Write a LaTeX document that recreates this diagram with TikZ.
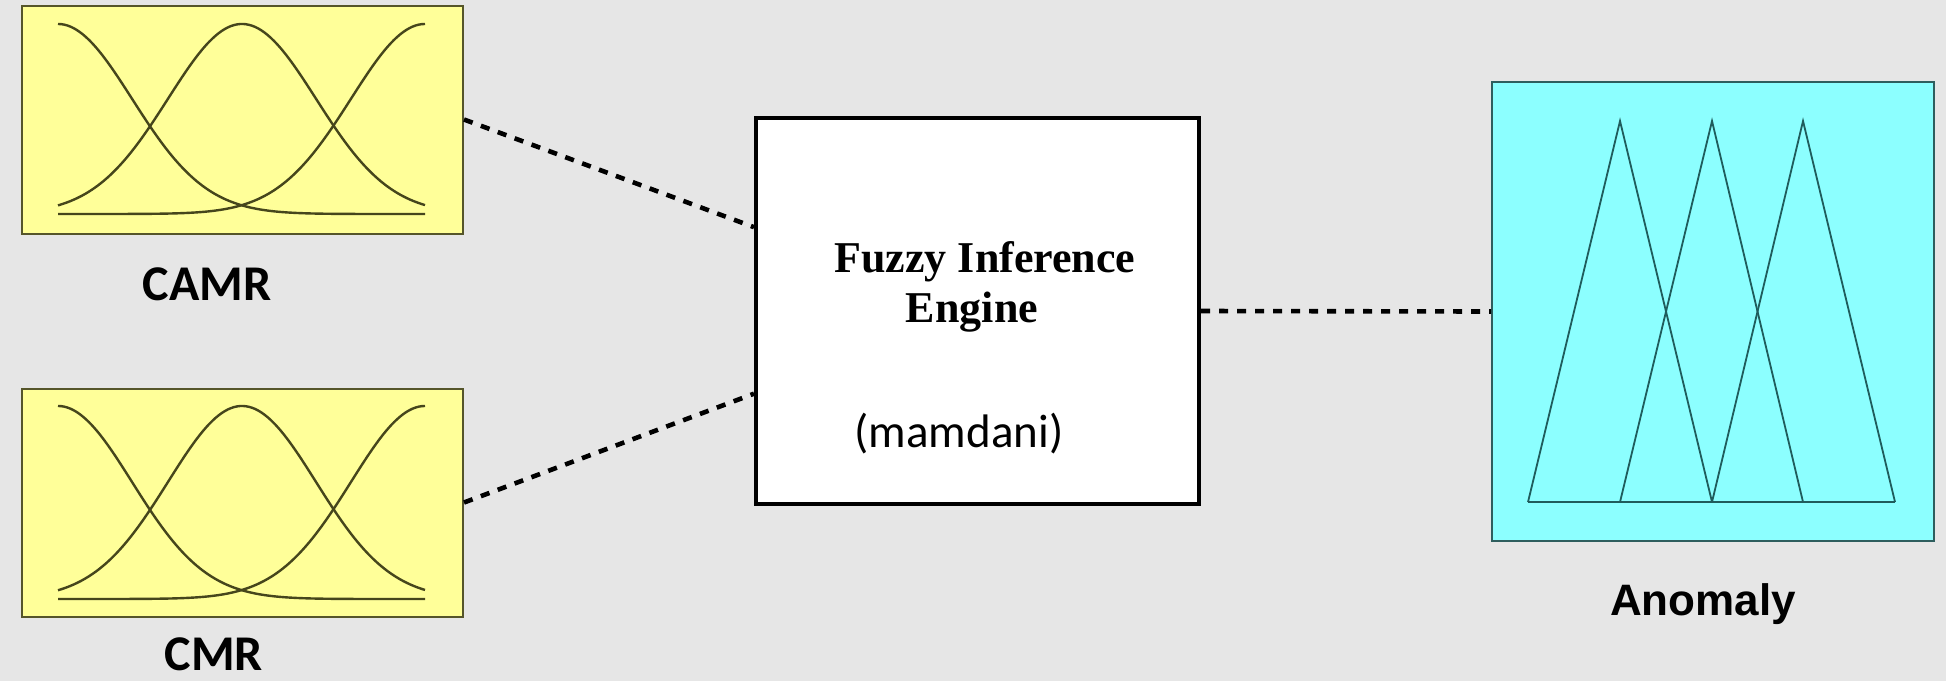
\documentclass[tikz,border=0pt]{standalone}
\usepackage{fontspec}
\newfontfamily\calfont{Carlito}
\newfontfamily\arfont{Liberation Sans}
\newfontfamily\tmfont{Liberation Serif}
\usetikzlibrary{calc}
\definecolor{bg}{HTML}{E6E6E6}
\definecolor{yfill}{HTML}{FFFF99}
\definecolor{yborder}{HTML}{55552A}
\definecolor{gline}{HTML}{46461C}
\definecolor{cfill}{HTML}{8CFFFF}
\definecolor{cborder}{HTML}{2E5E5E}
\definecolor{tline}{HTML}{1F5C5C}
\tikzset{
  inbox/.style={draw=yborder, fill=yfill, line width=1pt, minimum width=220.5pt, minimum height=114pt, inner sep=0pt},
  engbox/.style={draw=black, fill=white, line width=2pt, minimum width=221.5pt, minimum height=193pt, inner sep=0pt},
  outbox/.style={draw=cborder, fill=cfill, line width=1pt, minimum width=221pt, minimum height=229.5pt, inner sep=0pt},
  gcurve/.style={draw=gline, line width=1.2pt},
  tri/.style={draw=tline, line width=0.9pt, line join=miter},
  conn/.style={draw=black, line width=2.3pt, dash pattern=on 4.6pt off 4.4pt},
  lab/.style={inner sep=0pt, font=\calfont\bfseries\fontsize{25}{30}\selectfont},
  anlab/.style={inner sep=0pt, font=\arfont\bfseries\fontsize{22}{26}\selectfont},
  fz/.style={inner sep=0pt, font=\tmfont\bfseries\fontsize{22}{25}\selectfont},
  mam/.style={inner sep=0pt, font=\calfont\fontsize{23.5}{28}\selectfont}
}
\begin{document}
\begin{tikzpicture}[x=0.5pt,y=-0.5pt]
\fill[bg] (0,0) rectangle (1946,681);
\useasboundingbox (0,0) rectangle (1946,681);

% boxes
\node[inbox] (camr) at (242.5,119.5) {};
\node[inbox] (cmr) at (242.5,502.5) {};
\node[engbox] (eng) at (977.5,311) {};
\node[outbox] (anom) at (1713,311.5) {};

% gaussian membership functions
\foreach \t/\b in {24/214, 406/599} {
  \draw[gcurve] plot[domain=58:425,samples=120,smooth] (\x,{\b-(\b-\t)*exp(-0.5*((\x-58)/74)^2)});
  \draw[gcurve] plot[domain=58:425,samples=120,smooth] (\x,{\b-(\b-\t)*exp(-0.5*((\x-242)/74)^2)});
  \draw[gcurve] plot[domain=58:425,samples=120,smooth] (\x,{\b-(\b-\t)*exp(-0.5*((\x-425)/74)^2)});
}

% triangular membership functions
\draw[tri] (1528,502) -- (1620,121) -- (1712,502);
\draw[tri] (1620,502) -- (1712,121) -- (1803,502);
\draw[tri] (1712,502) -- (1803,121) -- (1895,502);
\draw[tri] (1528,502) -- (1895,502);

% connectors
\draw[conn] (camr.east) -- ($(eng.north west)!0.285!(eng.south west)$);
\draw[conn] (cmr.east) -- ($(eng.north west)!0.712!(eng.south west)$);
\draw[conn] (eng.east) -- (anom.west);

% labels
\node[lab, anchor=base] (camrl) at (207,300) {CAMR};
\node[lab, anchor=base] (cmrl) at (214,670) {CMR};
\node[anlab, anchor=base] (anoml) at (1703,615) {Anomaly};
\node[fz, anchor=base] (fz1) at (985,272) {Fuzzy Inference};
\node[fz, anchor=base] (fz2) at (972,322) {Engine};
\node[mam, anchor=base] (mam) at (959,447) {(mamdani)};
\end{tikzpicture}
\end{document}
